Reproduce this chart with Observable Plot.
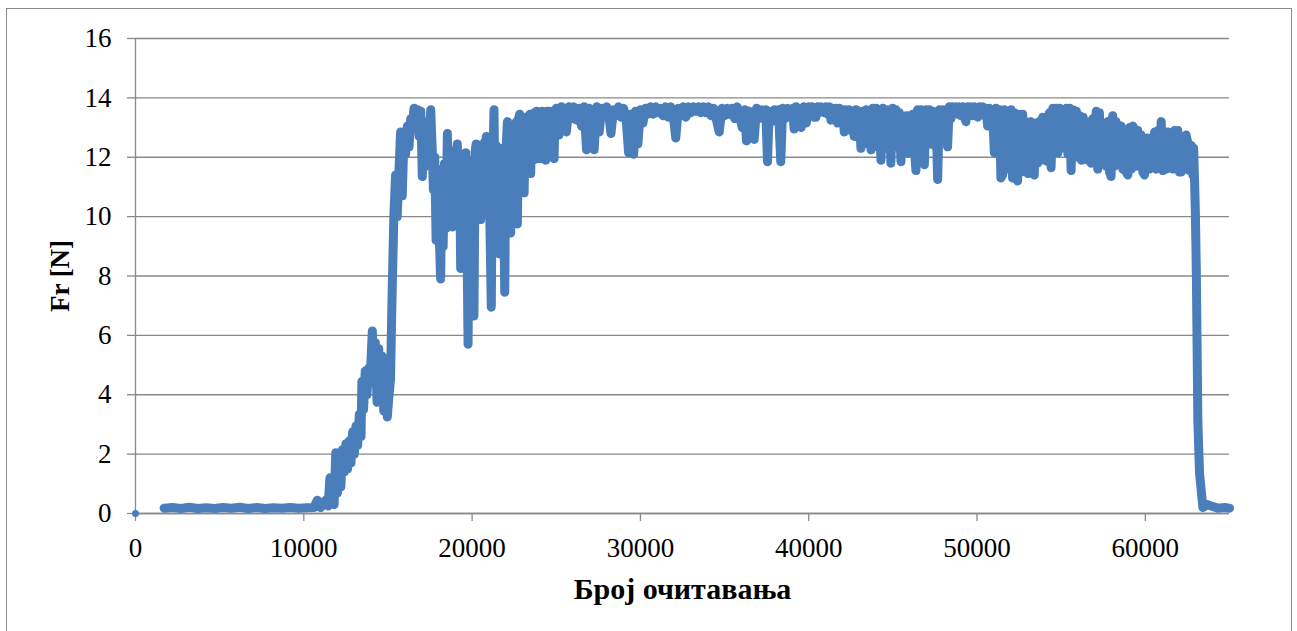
<!DOCTYPE html>
<html>
<head>
<meta charset="utf-8">
<script src="https://cdn.jsdelivr.net/npm/d3@7"></script>
<script src="https://cdn.jsdelivr.net/npm/@observablehq/plot@0.6"></script>
<style>
  html, body { margin: 0; padding: 0; background: #fff; }
  #wrap { position: relative; width: 1297px; height: 631px; overflow: hidden; }
  #frame { position: absolute; left: 6px; top: 8px; width: 1286px; height: 660px;
           border: 1.3px solid #8a8a8a; box-sizing: border-box; pointer-events: none; }
  #chart { position: absolute; left: 0; top: 0; }
</style>
</head>
<body>
<div id="wrap"><div id="chart"></div><div id="frame"></div></div>
<script>
// Friction force Fr [N] against reading number, as [reading, force] pairs per phase of the run

// first logged sample, stored on its own at the origin
const originSample = [[0, 0]];

// idle before contact
const idle = [
  [1700, 0.18], [2200, 0.2], [2700, 0.17], [3200, 0.21], [3700, 0.17], [4200, 0.19], [4700, 0.17], [5200, 0.2],
  [5700, 0.18], [6200, 0.21], [6700, 0.17], [7200, 0.2], [7700, 0.17], [8200, 0.19], [8700, 0.18], [9200, 0.2],
  [9700, 0.18], [10200, 0.19], [10600, 0.2]
];

// load build-up
const buildUp = [
  [10800, 0.45], [11000, 0.2], [11300, 0.45], [11450, 0.25], [11550, 1.2], [11650, 0.35], [11800, 0.3], [11900, 2.05],
  [12000, 0.7], [12100, 1.9], [12200, 0.9], [12300, 2.15], [12400, 1.4], [12500, 2.35], [12600, 1.5], [12700, 2.45],
  [12800, 1.7], [12900, 2.75], [13000, 2.0], [13100, 2.95], [13200, 2.3], [13300, 3.35], [13400, 2.6], [13450, 4.45],
  [13550, 3.5], [13650, 4.8], [13750, 4.0], [13850, 4.9], [13950, 4.6], [14070, 6.15], [14150, 4.9], [14250, 5.75],
  [14350, 3.75], [14450, 5.55], [14550, 3.75], [14650, 5.3], [14750, 3.45], [14850, 4.8], [14960, 3.25], [15050, 3.9],
  [15150, 4.5], [15250, 7.5], [15350, 10.0], [15450, 11.4], [15550, 10.0], [15650, 11.5], [15750, 12.85], [15850, 10.7],
  [15950, 12.7], [16050, 12.1], [16150, 13.05], [16250, 12.35], [16350, 13.3], [16450, 13.1], [16550, 13.65], [16650, 13.3],
  [16750, 13.6], [16850, 12.7], [16950, 13.55], [17040, 11.35], [17150, 13.2], [17250, 11.7], [17350, 12.9], [17450, 12.2],
  [17540, 13.6], [17640, 12.1]
];

// unstable running-in
const runningIn = [
  [17700, 10.9], [17780, 12.0], [17860, 9.2], [17940, 11.6], [18020, 9.8], [18130, 7.9], [18200, 11.0], [18280, 9.0],
  [18360, 11.8], [18440, 9.6], [18530, 12.8], [18600, 10.2], [18680, 12.2], [18760, 10.0], [18830, 9.65], [18900, 12.0],
  [18980, 10.3], [19060, 12.2], [19120, 12.45], [19200, 10.0], [19260, 11.8], [19320, 8.25], [19400, 11.6], [19470, 9.7],
  [19540, 12.0], [19620, 12.15], [19690, 9.5], [19760, 5.7], [19830, 11.0], [19900, 9.4], [19970, 11.9], [20040, 9.2],
  [20110, 6.65], [20180, 12.2], [20240, 12.45], [20310, 10.3], [20380, 12.2], [20450, 10.6], [20510, 9.9], [20580, 12.4],
  [20650, 10.4], [20720, 12.5], [20780, 10.8], [20840, 12.7], [20910, 10.2], [20980, 12.4], [21050, 10.0], [21140, 6.95],
  [21200, 11.8], [21260, 12.6], [21300, 13.6], [21360, 10.6], [21430, 12.4], [21500, 10.3], [21560, 12.2], [21600, 8.75],
  [21670, 12.1], [21740, 10.2], [21810, 12.3], [21880, 10.0], [21940, 7.45], [22000, 12.0], [22060, 12.8], [22100, 13.2],
  [22170, 10.8], [22230, 12.6], [22290, 9.45], [22360, 12.9], [22430, 10.6], [22500, 12.9], [22570, 10.9], [22630, 13.2],
  [22690, 9.75], [22760, 13.3], [22820, 13.45], [22880, 11.0], [22950, 13.2], [23020, 11.2], [23090, 10.8], [23160, 13.35],
  [23230, 11.5], [23300, 13.3], [23370, 11.7], [23430, 13.45], [23480, 11.45], [23550, 13.45], [23620, 11.9], [23690, 13.5],
  [23760, 12.0], [23830, 13.55], [23900, 11.95], [23970, 13.45], [24040, 12.1], [24080, 11.95], [24150, 13.55], [24220, 12.2],
  [24300, 13.5], [24370, 11.9], [24440, 13.55], [24510, 12.3], [24580, 13.55], [24650, 12.5], [24720, 13.45], [24800, 12.1],
  [24870, 11.95], [24940, 13.6]
];

// steady sliding
const steady = [
  [25000, 13.65], [25150, 12.75], [25300, 13.7], [25450, 13.1], [25600, 12.85], [25750, 13.7], [25900, 13.3], [26050, 13.7],
  [26200, 13.25], [26350, 13.65], [26500, 13.05], [26650, 13.7], [26800, 12.25], [26950, 13.65], [27100, 13.3], [27250, 12.25],
  [27400, 13.7], [27550, 12.85], [27700, 13.65], [27850, 13.4], [28000, 13.7], [28150, 13.3], [28250, 12.8], [28400, 13.6],
  [28550, 13.4], [28700, 13.7], [28850, 13.35], [29000, 13.65], [29150, 13.3], [29300, 12.15], [29400, 13.45], [29500, 12.2],
  [29600, 12.1], [29700, 13.55], [29850, 12.45], [30000, 13.6], [30150, 13.15], [30300, 13.65], [30450, 13.45], [30600, 13.7],
  [30750, 13.45], [30900, 13.7], [31050, 13.5], [31200, 13.65], [31350, 13.4], [31500, 13.7], [31650, 13.35], [31800, 13.7],
  [31950, 13.4], [32100, 12.65], [32250, 13.65], [32400, 13.4], [32550, 13.7], [32700, 13.35], [32850, 13.7], [33000, 13.5],
  [33150, 13.7], [33300, 13.55], [33450, 13.7], [33600, 13.5], [33750, 13.7], [33900, 13.5], [34050, 13.7], [34200, 13.4],
  [34350, 13.65], [34500, 13.3], [34680, 12.85], [34850, 13.65], [35000, 13.4], [35150, 13.65], [35300, 13.45], [35450, 13.65],
  [35600, 13.3], [35750, 13.7], [35900, 13.35], [36050, 13.0], [36200, 13.6], [36300, 12.55], [36450, 13.55], [36600, 12.95],
  [36760, 12.6], [36900, 13.65], [37050, 13.3], [37200, 13.6], [37350, 13.35], [37450, 13.6], [37550, 11.85], [37650, 13.55],
  [37800, 13.2], [37950, 13.6], [38100, 13.3], [38200, 13.6], [38340, 11.85], [38450, 13.65], [38600, 13.3], [38750, 13.65],
  [38900, 13.4], [39050, 13.65], [39130, 12.95], [39250, 13.7], [39400, 13.4], [39550, 13.0], [39700, 13.7], [39850, 13.15]
];

// sliding with growing scatter
const scatter = [
  [40000, 13.7], [40100, 13.4], [40200, 13.7], [40320, 13.35], [40420, 13.35], [40520, 13.7], [40620, 13.5], [40720, 13.7],
  [40820, 13.6], [40920, 13.5], [41020, 13.7], [41120, 13.45], [41220, 13.7], [41320, 13.25], [41420, 13.65], [41520, 13.35],
  [41620, 13.65], [41720, 13.15], [41820, 13.65], [41920, 13.3], [42020, 13.6], [42110, 12.85], [42200, 13.6], [42300, 13.1],
  [42400, 13.6], [42500, 12.9], [42600, 13.55], [42700, 12.7], [42800, 13.6], [42900, 12.7], [43000, 13.55], [43100, 12.3],
  [43200, 13.55], [43300, 12.5], [43400, 13.6], [43500, 12.45], [43600, 13.55], [43700, 12.25], [43800, 13.65], [43900, 12.45],
  [44000, 13.65], [44100, 12.35], [44200, 13.6], [44290, 11.9], [44400, 13.65], [44500, 12.45], [44600, 13.6], [44700, 12.3],
  [44800, 13.6], [44880, 11.8], [44980, 13.65], [45080, 12.4], [45180, 13.6], [45280, 12.35], [45380, 13.5], [45480, 11.85],
  [45580, 13.35], [45680, 12.45], [45780, 13.4], [45880, 12.15], [45980, 13.4], [46080, 12.4], [46180, 13.45], [46280, 12.3],
  [46370, 11.55], [46460, 13.6], [46560, 12.45], [46660, 13.6], [46760, 12.4], [46870, 11.75], [46960, 13.6], [47060, 12.5],
  [47160, 13.6], [47260, 12.45], [47360, 13.55], [47460, 12.4], [47560, 13.5], [47660, 11.25], [47760, 13.6], [47860, 12.6],
  [47960, 13.6], [48060, 12.6], [48160, 13.6], [48250, 12.35], [48350, 13.7], [48450, 13.3], [48550, 13.7], [48650, 13.45],
  [48750, 13.7], [48850, 13.45], [48950, 13.7], [49050, 13.4], [49150, 13.7], [49250, 13.35], [49340, 13.2], [49440, 13.7],
  [49540, 13.45], [49640, 13.7], [49740, 13.4], [49840, 13.7], [49940, 13.4], [50040, 13.35], [50140, 13.7], [50240, 13.45],
  [50340, 13.7], [50440, 13.4], [50540, 13.65], [50630, 13.05], [50720, 13.65], [50820, 13.2], [50920, 13.6], [51030, 12.15],
  [51120, 13.65], [51220, 12.6], [51320, 13.6], [51420, 11.3], [51520, 11.4], [51620, 13.6], [51720, 11.6], [51820, 13.55],
  [51920, 11.75]
];

// stick-slip phase before unloading
const stickSlip = [
  [52020, 13.6], [52110, 11.3], [52210, 13.5], [52310, 11.4], [52410, 11.2], [52510, 13.45], [52610, 11.5], [52710, 13.45],
  [52810, 11.6], [52910, 13.2], [53010, 11.45], [53110, 13.05], [53210, 13.2], [53300, 11.6], [53400, 11.4], [53500, 13.15],
  [53600, 11.8], [53700, 13.2], [53800, 11.95], [53900, 13.35], [54000, 11.9], [54100, 13.3], [54200, 11.85], [54300, 13.5],
  [54400, 11.65], [54500, 13.65], [54600, 12.3], [54700, 13.65], [54800, 12.15], [54900, 13.65], [55000, 12.3], [55100, 13.6],
  [55200, 12.35], [55300, 13.65], [55400, 12.1], [55500, 13.65], [55590, 11.55], [55700, 13.6], [55800, 12.0], [55900, 13.55],
  [56000, 12.45], [56100, 13.4], [56200, 11.9], [56300, 13.35], [56380, 12.0], [56480, 13.2], [56580, 11.9], [56680, 13.05],
  [56780, 11.8], [56880, 13.3], [56980, 12.05], [57080, 13.55], [57170, 11.6], [57270, 13.5], [57370, 11.8], [57470, 13.0],
  [57570, 12.95], [57670, 11.7], [57770, 13.2], [57870, 11.5], [57960, 11.35], [58060, 13.4], [58160, 11.7], [58260, 13.2],
  [58360, 11.85], [58460, 13.0], [58560, 13.05], [58660, 11.6], [58760, 12.9], [58860, 11.5], [58960, 11.4], [59060, 13.0],
  [59160, 11.6], [59260, 13.05], [59350, 12.95], [59450, 11.7], [59550, 12.9], [59650, 11.75], [59750, 12.75], [59850, 11.5],
  [59950, 11.4], [60050, 12.6], [60140, 12.65], [60240, 11.6], [60350, 12.5], [60450, 11.85], [60550, 12.85], [60650, 11.6],
  [60750, 12.9], [60850, 11.7], [60940, 13.2], [61040, 11.55], [61140, 12.8], [61240, 11.6], [61330, 12.85], [61430, 11.85],
  [61530, 12.7], [61630, 11.6], [61730, 12.9], [61830, 11.7], [61930, 12.9], [62030, 11.5], [62120, 11.5], [62220, 12.6],
  [62320, 11.6], [62420, 12.75], [62520, 12.5], [62620, 11.55], [62720, 12.4], [62820, 11.4], [62870, 12.3], [62920, 11.3]
];

// unloading and rest
const unloading = [
  [62970, 10.2], [63030, 8.1], [63120, 3.1], [63220, 1.35], [63420, 0.2], [63700, 0.3], [63910, 0.25], [64300, 0.18],
  [64700, 0.2], [65000, 0.18]
];

const xTicks = [0, 10000, 20000, 30000, 40000, 50000, 60000];
const yTicks = [0, 2, 4, 6, 8, 10, 12, 14, 16];
const xTitle = "Број очитавања";
const yTitle = "Fr [N]";

const series = [...idle, ...buildUp, ...runningIn, ...steady, ...scatter, ...stickSlip, ...unloading];

const gray = "#898989";
const blue = "#4a7ebb";

const chart = Plot.plot({
  width: 1297,
  height: 631,
  marginLeft: 135,
  marginRight: 68,
  marginTop: 38,
  marginBottom: 118,
  style: {fontFamily: "'Liberation Serif', serif", fontSize: "27px", color: "#000", background: "transparent"},
  x: {domain: [0, 65000]},
  y: {domain: [0, 16]},
  marks: [
    Plot.gridY(yTicks, {stroke: gray, strokeOpacity: 1, strokeWidth: 1.3}),
    Plot.ruleX([0], {stroke: gray, strokeWidth: 1.3}),
    Plot.ruleY([0], {stroke: gray, strokeWidth: 1.3}),
    Plot.axisY(yTicks, {tickSize: 8, tickPadding: 16, stroke: gray, strokeWidth: 1.3, fill: "#000", label: null}),
    Plot.axisX(xTicks, {tickSize: 8, tickPadding: 16, stroke: gray, strokeWidth: 1.3, fill: "#000", label: null,
                        tickFormat: d3.format("d")}),
    Plot.line(series, {x: d => d[0], y: d => d[1], stroke: blue, strokeWidth: 9,
                       strokeLinejoin: "round", strokeLinecap: "round"}),
    Plot.dot(originSample, {x: d => d[0], y: d => d[1], r: 3.5, fill: blue, stroke: null}),
    Plot.text([xTitle], {frameAnchor: "bottom", dy: 85, textAnchor: "middle", lineAnchor: "bottom",
                         fontWeight: "bold", fontSize: 30, fill: "#000"}),
    Plot.text([yTitle], {frameAnchor: "left", dx: -75, rotate: -90, textAnchor: "middle", lineAnchor: "middle",
                         fontWeight: "bold", fontSize: 27, fill: "#000"})
  ]
});
document.getElementById("chart").appendChild(chart);
</script>
</body>
</html>
